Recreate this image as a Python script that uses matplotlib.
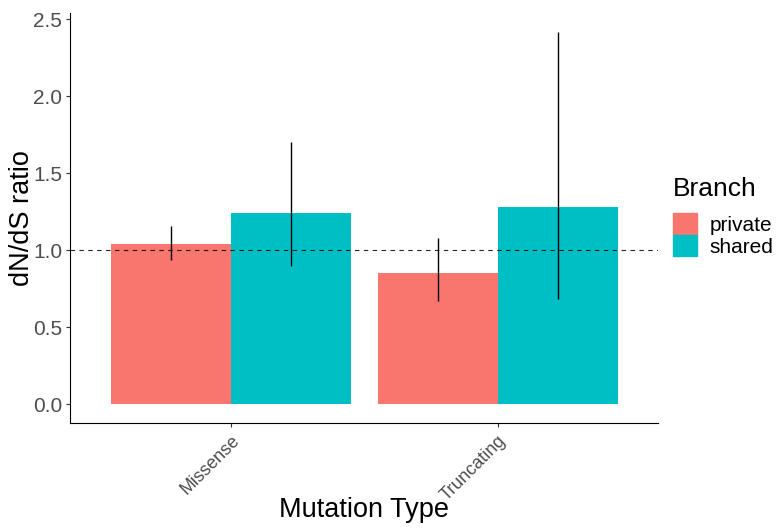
import numpy as np
import matplotlib
matplotlib.use("Agg")
import matplotlib.pyplot as plt
import matplotlib.patches as mpatches

plt.rcParams['font.family'] = ['Liberation Sans', 'DejaVu Sans']

# data
mutation_types = ['Missense', 'Truncating']
branches = ['private', 'shared']
ratio = {'private': [1.04, 0.85],
         'shared': [1.24, 1.28]}
lower = {'private': [0.935, 0.67],
         'shared': [0.90, 0.68]}
upper = {'private': [1.16, 1.08],
         'shared': [1.70, 2.42]}
colors = {'private': '#F8766D',
          'shared': '#00BFC4'}

fig = plt.figure(figsize=(7.79, 5.29), dpi=100)
ax = fig.add_axes([0.0905, 0.2009, 0.7541, 0.7745])

x = np.arange(len(mutation_types)) + 1
width = 0.45
for i, b in enumerate(branches):
    pos = x + (i - 0.5) * width
    ax.bar(pos, ratio[b], width=width, color=colors[b], label=b, zorder=1)
    ax.vlines(pos, lower[b], upper[b], color='black', linewidth=1.0, zorder=3)

ax.axhline(1.0, color='black', linestyle=(0, (4, 4)), linewidth=0.8, alpha=0.85, zorder=2)

ax.set_xlim(0.4, 2.6)
top = max(max(upper[b]) for b in branches)
ax.set_ylim(-0.05 * top, 1.05 * top)
ax.set_yticks([0.0, 0.5, 1.0, 1.5, 2.0, 2.5])
ax.set_yticklabels(['0.0', '0.5', '1.0', '1.5', '2.0', '2.5'])
ax.set_xticks(x)
ax.set_xticklabels(mutation_types, rotation=45, ha='right', rotation_mode='anchor')

for s in ['top', 'right']:
    ax.spines[s].set_visible(False)
for s in ['left', 'bottom']:
    ax.spines[s].set_color('black')
    ax.spines[s].set_linewidth(0.8)

ax.tick_params(axis='y', labelsize=15, labelcolor='#4D4D4D', color='#333333', length=3, width=0.8, pad=3)
ax.tick_params(axis='x', labelsize=13, labelcolor='#4D4D4D', color='#333333', length=3, width=0.8, pad=4)

ax.set_xlabel('Mutation Type', fontsize=19.5)
ax.set_ylabel('dN/dS ratio', fontsize=19.5)
ax.xaxis.set_label_coords(0.5, -0.213)
ax.yaxis.set_label_coords(-0.083, 0.5)
ax.xaxis.label.set_va('center')
ax.yaxis.label.set_va('center')

handles = [mpatches.Patch(color=colors[b], label=b) for b in branches]
leg = ax.legend(handles=handles, title='Branch', loc='center left',
                bbox_to_anchor=(0.864, 0.59), bbox_transform=fig.transFigure,
                frameon=False, fontsize=15, title_fontsize=19,
                handlelength=1.15, handleheight=1.2, labelspacing=0.0,
                handletextpad=0.6, alignment='left', borderaxespad=0,
                borderpad=0)
leg._legend_box.sep = 9

fig.savefig('out.png', dpi=100)
